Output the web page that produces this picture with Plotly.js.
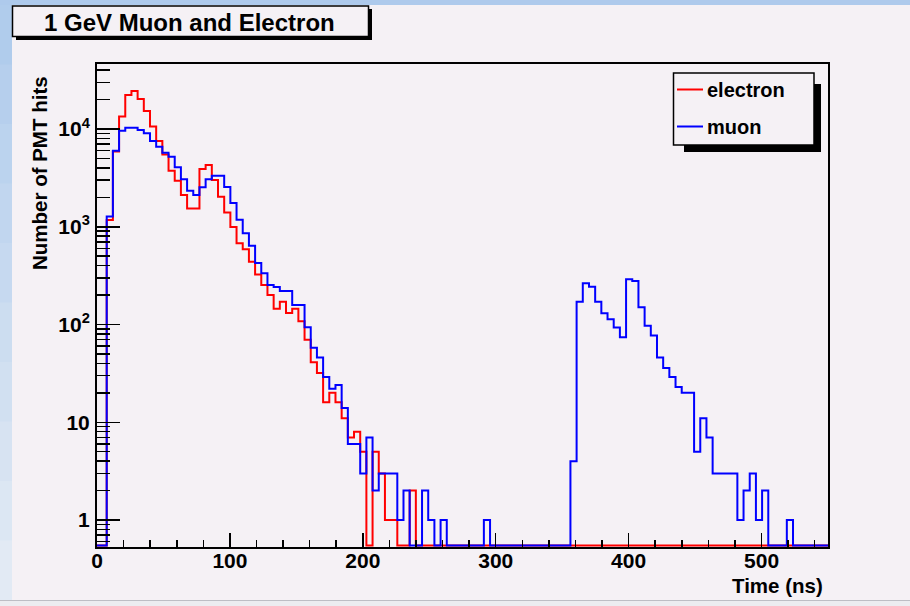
<!DOCTYPE html>
<html><head><meta charset="utf-8">
<script src="https://cdn.plot.ly/plotly-3.0.1.min.js"></script>
<style>html,body{margin:0;padding:0;background:#f5f1f5;}#chart{width:910px;height:606px;}</style>
</head><body><div id="chart"></div>
<script>
// ---- histogram binning (ns) ----
const binLow = -2.0;
const binWidth = 4.652;

// ---- counts per bin ----
const electronCounts = [
  0,0,1170,5900,13400,22300,24500,20300,15300,10600,
  7540,5500,3750,2950,2110,1540,1540,3900,4280,3010,
  2030,1400,995,677,590,439,325,254,200,145,
  171,131,145,108,70,41,32,16,20,16,
  11,7,8,5,0,5,3,1,1,0,
  0,2,0,0,0,0,0,0,0,0,
  0,0,0,0,0,0,0,0,0,0,
  0,0,0,0,0,0,0,0,0,0,
  0,0,0,0,0,0,0,0,0,0,
  0,0,0,0,0,0,0,0,0,0,
  0,0,0,0,0,0,0,0,0,0,
  0,0,0,0,0,0,0,0,0
];
const muonCounts = [
  0,0,1270,6000,9600,10300,10300,9770,9040,7540,
  6590,5720,5210,4060,3060,2340,2110,2530,3060,3330,
  3330,2550,1750,1180,860,640,425,334,254,242,
  220,220,158,158,94,58,46,29,22,24,
  14,6,6,3,7,2,3,3,3,1,
  2,0,0,2,1,0,1,0,0,0,
  0,0,0,1,0,0,0,0,0,0,
  0,0,0,0,0,0,0,4,171,264,
  244,171,130,113,93,74,290,279,150,97,
  77,46,36,29,23,20,20,5,11,7,
  3,3,3,3,1,2,3,1,2,0,
  0,0,1,0,0,0,0,0,0
];
const seriesNames = ['electron', 'muon'];
const seriesColors = ['#ff0000', '#0000ff'];

// ---- axes text ----
const titleText = '1 GeV Muon and Electron';
const xTitleText = 'Time (ns)';
const yTitleText = 'Number of PMT hits';
const xTickVals = [0, 100, 200, 300, 400, 500];
const yTickVals = [1, 10, 100, 1000, 10000];
const yTickText = ['1', '10', '10<sup>2</sup>', '10<sup>3</sup>', '10<sup>4</sup>'];

// ---- layout geometry ----
const FIG_W = 910, FIG_H = 606;
const PL = 97, PR = 828, PT = 64, PB = 547;
const X_RANGE = [0, 550];
const Y_RANGE = [-0.276, 4.665];
const FONT = 'Liberation Sans, Arial, Helvetica, sans-serif';
const BG = '#f5f1f5';

const zeroLevel = Math.pow(10, Y_RANGE[0] + 0.016);

function stepTrace(counts, name, color) {
  const x = [], y = [];
  counts.forEach((c, i) => {
    x.push(binLow + i * binWidth);
    y.push(c > 0 ? c : zeroLevel);
  });
  x.push(binLow + counts.length * binWidth);
  y.push(y[y.length - 1]);
  return {
    type: 'scatter', mode: 'lines', x: x, y: y, name: name,
    line: {shape: 'hv', color: color, width: 2},
    showlegend: false, hoverinfo: 'skip'
  };
}

const traces = [
  stepTrace(electronCounts, seriesNames[0], seriesColors[0]),
  stepTrace(muonCounts, seriesNames[1], seriesColors[1])
];

// minor log ticks
const minorY = [];
for (let d = -1; d <= 4; d++) {
  for (let m = 2; m <= 9; m++) {
    const v = m * Math.pow(10, d);
    const lv = Math.log10(v);
    if (lv > Y_RANGE[0] && lv < Y_RANGE[1]) minorY.push(v);
  }
}

const px2x = px => (px - PL) / (PR - PL);
const px2y = py => (PB - py) / (PB - PT);
function rectPx(x0, y0, x1, y1, fill, lineColor, lineWidth) {
  return {
    type: 'rect', xref: 'paper', yref: 'paper', layer: 'above',
    x0: px2x(x0), x1: px2x(x1), y0: px2y(y1), y1: px2y(y0),
    fillcolor: fill, line: {color: lineColor || fill, width: lineWidth || 0}
  };
}
function linePx(x0, y0, x1, y1, color, width) {
  return {
    type: 'line', xref: 'paper', yref: 'paper', layer: 'above',
    x0: px2x(x0), x1: px2x(x1), y0: px2y(y0), y1: px2y(y1),
    line: {color: color, width: width}
  };
}
function annPx(text, x, y, xanchor, yanchor, size, extra) {
  return Object.assign({
    text: text, xref: 'paper', yref: 'paper', x: px2x(x), y: px2y(y),
    xanchor: xanchor, yanchor: yanchor, showarrow: false,
    font: {family: FONT, size: size, color: '#000', weight: 700}
  }, extra || {});
}

const shapes = [];
// window edge strips
shapes.push(rectPx(0, 0, FIG_W, 5, '#aecaec'));
const leftTop = [176, 204, 236], leftBot = [226, 234, 244];
const nBands = 10;
for (let b = 0; b < nBands; b++) {
  const t = b / (nBands - 1);
  const c = leftTop.map((v, k) => Math.round(v + (leftBot[k] - v) * t));
  const y0 = 5 + b * (595 / nBands), y1 = 5 + (b + 1) * (595 / nBands) + 0.5;
  shapes.push(rectPx(0, y0, 12, y1, 'rgb(' + c.join(',') + ')'));
}
shapes.push(rectPx(0, 600, FIG_W, FIG_H, '#ececf0'));
shapes.push(linePx(0, 600.5, FIG_W, 600.5, '#bdbdc4', 1));
// title box with shadow
shapes.push(rectPx(16, 9, 372, 40, '#000000'));
shapes.push(rectPx(12.5, 6, 368.5, 36.5, BG, '#000000', 1.5));
// legend box with shadow
shapes.push(rectPx(684, 84, 821, 152, '#000000'));
shapes.push(rectPx(673.5, 73, 814, 145, BG, '#000000', 1.5));
shapes.push(linePx(677, 89.5, 703, 89.5, seriesColors[0], 2));
shapes.push(linePx(677, 126.5, 703, 126.5, seriesColors[1], 2));

const annotations = [
  annPx(titleText, 189, 22, 'center', 'middle', 24),
  annPx(yTitleText, 39, 173, 'center', 'middle', 20.5, {textangle: -90}),
  annPx(xTitleText, 825, 585, 'right', 'middle', 20.5),
  annPx(seriesNames[0], 705, 90, 'left', 'middle', 20),
  annPx(seriesNames[1], 705, 127, 'left', 'middle', 20)
];

const tickFont = {family: FONT, size: 21, color: '#000', weight: 700};

const layout = {
  width: FIG_W, height: FIG_H,
  margin: {l: PL, r: FIG_W - PR, t: PT, b: FIG_H - PB, pad: 0},
  paper_bgcolor: BG, plot_bgcolor: BG,
  showlegend: false, hovermode: false,
  xaxis: {
    range: X_RANGE, tickmode: 'array', tickvals: xTickVals,
    ticks: 'inside', ticklen: 14, tickwidth: 1.5, tickcolor: '#000',
    minor: {ticks: 'inside', ticklen: 7, tickwidth: 1.5, tickcolor: '#000', tickmode: 'linear', tick0: 0, dtick: 20, showgrid: false},
    showline: true, mirror: true, linecolor: '#000', linewidth: 2,
    showgrid: false, zeroline: false, tickfont: tickFont, ticklabelstandoff: -6
  },
  yaxis: {
    type: 'log', range: Y_RANGE, tickmode: 'array', tickvals: yTickVals, ticktext: yTickText,
    ticks: 'inside', ticklen: 23, tickwidth: 1.5, tickcolor: '#000',
    minor: {ticks: 'inside', ticklen: 13, tickwidth: 1.5, tickcolor: '#000', tickmode: 'array', tickvals: minorY, showgrid: false},
    showline: true, mirror: true, linecolor: '#000', linewidth: 2,
    showgrid: false, zeroline: false, tickfont: tickFont, ticklabelstandoff: 1
  },
  shapes: shapes,
  annotations: annotations
};

Plotly.newPlot('chart', traces, layout, {staticPlot: true, displayModeBar: false});
</script>
</body></html>
